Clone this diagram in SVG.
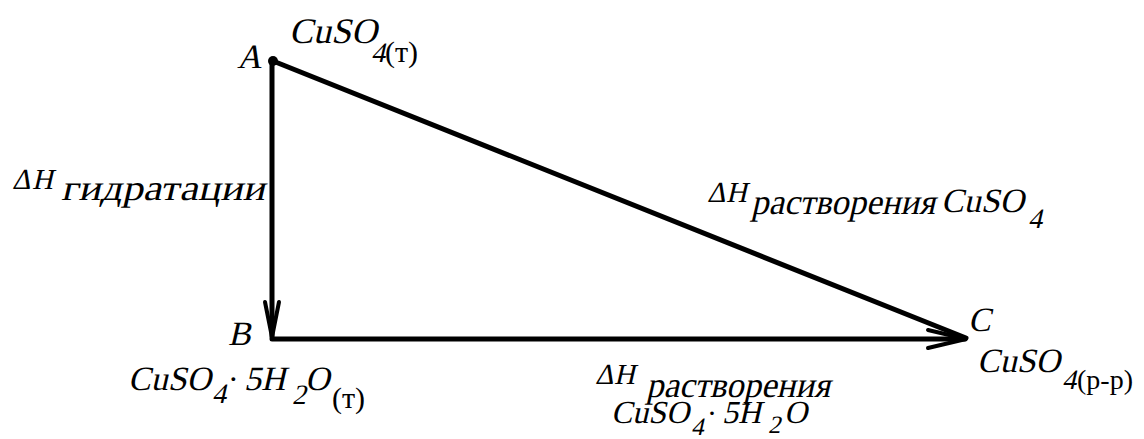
<svg xmlns="http://www.w3.org/2000/svg" width="1144" height="439" viewBox="0 0 1144 439">
<style>
text{font-family:'Liberation Serif','Times New Roman',serif;font-style:normal;fill:#000}
.ln{stroke:#000;stroke-width:5;fill:none;stroke-linecap:round}
.ah{stroke:#000;stroke-width:4;fill:none;stroke-linecap:round;stroke-linejoin:miter}
</style>
<rect width="1144" height="439" fill="#fff"/>
<g id="connectors">
<path class="ln" d="M273,61 L966,338"/>
<path class="ln" d="M272,61 V337"/>
<path class="ln" d="M272,339 H965"/>
<polyline class="ah" points="265,302 272,337 279,302"/>
<polyline class="ah" points="928,330 966,339 928,348"/>
</g>
<g id="nodeA">
<circle cx="273" cy="61" r="5" fill="#000"/>
<text transform="translate(0,68) skewX(-13) translate(0,-68)" x="237" y="68" font-size="34">A</text>
<text transform="translate(0,43) skewX(-13) translate(0,-43)" x="289" y="43" font-size="36">CuSO</text>
<text transform="translate(0,62) skewX(-13) translate(0,-62)" x="371" y="62" font-size="28">4</text>
<text x="385" y="62" font-size="30">(т)</text>
</g>
<g id="nodeB">
<text transform="translate(0,345) skewX(-13) translate(0,-345)" x="228" y="345" font-size="34">B</text>
<text transform="translate(0,390) skewX(-13) translate(0,-390)" x="128" y="390" font-size="34">CuSO</text>
<text transform="translate(0,403) skewX(-13) translate(0,-403)" x="212" y="403" font-size="28">4</text>
<text x="228" y="390" font-size="32">·</text>
<text transform="translate(0,390) skewX(-13) translate(0,-390)" x="244" y="390" font-size="34">5H</text>
<text transform="translate(0,404) skewX(-13) translate(0,-404)" x="292" y="404" font-size="28">2</text>
<text transform="translate(0,390) skewX(-13) translate(0,-390)" x="305" y="390" font-size="34">O</text>
<text x="332" y="408" font-size="30">(т)</text>
</g>
<g id="nodeC">
<text transform="translate(0,331) skewX(-13) translate(0,-331)" x="968" y="331" font-size="34">C</text>
<text transform="translate(0,372) skewX(-13) translate(0,-372)" x="977" y="372" font-size="34">CuSO</text>
<text transform="translate(0,389) skewX(-13) translate(0,-389)" x="1062" y="389" font-size="28">4</text>
<text x="1077" y="389" font-size="28">(р-р)</text>
</g>
<g id="labels">
<text transform="translate(0,189) skewX(-13) translate(0,-189)" font-size="29"><tspan x="12" y="189">Δ</tspan><tspan x="32" y="189">H</tspan></text>
<text transform="translate(0,200) skewX(-13) translate(0,-200)" x="61" y="200" font-size="36" textLength="204" lengthAdjust="spacingAndGlyphs">гидратации</text>
<text transform="translate(0,202) skewX(-13) translate(0,-202)" font-size="29"><tspan x="707" y="202">Δ</tspan><tspan x="726" y="202">H</tspan></text>
<text transform="translate(0,214) skewX(-13) translate(0,-214)" x="751" y="214" font-size="36" textLength="184" lengthAdjust="spacingAndGlyphs">растворения</text>
<text transform="translate(0,212) skewX(-13) translate(0,-212)" x="941" y="212" font-size="34">CuSO</text>
<text transform="translate(0,228) skewX(-13) translate(0,-228)" x="1028" y="228" font-size="28">4</text>
<text transform="translate(0,384) skewX(-13) translate(0,-384)" font-size="29"><tspan x="595" y="384">Δ</tspan><tspan x="614" y="384">H</tspan></text>
<text transform="translate(0,397) skewX(-13) translate(0,-397)" x="646" y="397" font-size="36" textLength="184" lengthAdjust="spacingAndGlyphs">растворения</text>
<text transform="translate(0,423) skewX(-13) translate(0,-423)" x="611" y="423" font-size="32">CuSO</text>
<text transform="translate(0,435) skewX(-13) translate(0,-435)" x="691" y="435" font-size="25">4</text>
<text x="707" y="423" font-size="30">·</text>
<text transform="translate(0,423) skewX(-13) translate(0,-423)" x="722" y="423" font-size="32">5H</text>
<text transform="translate(0,433) skewX(-13) translate(0,-433)" x="768" y="433" font-size="25">2</text>
<text transform="translate(0,423) skewX(-13) translate(0,-423)" x="784" y="423" font-size="32">O</text>
</g>
</svg>
